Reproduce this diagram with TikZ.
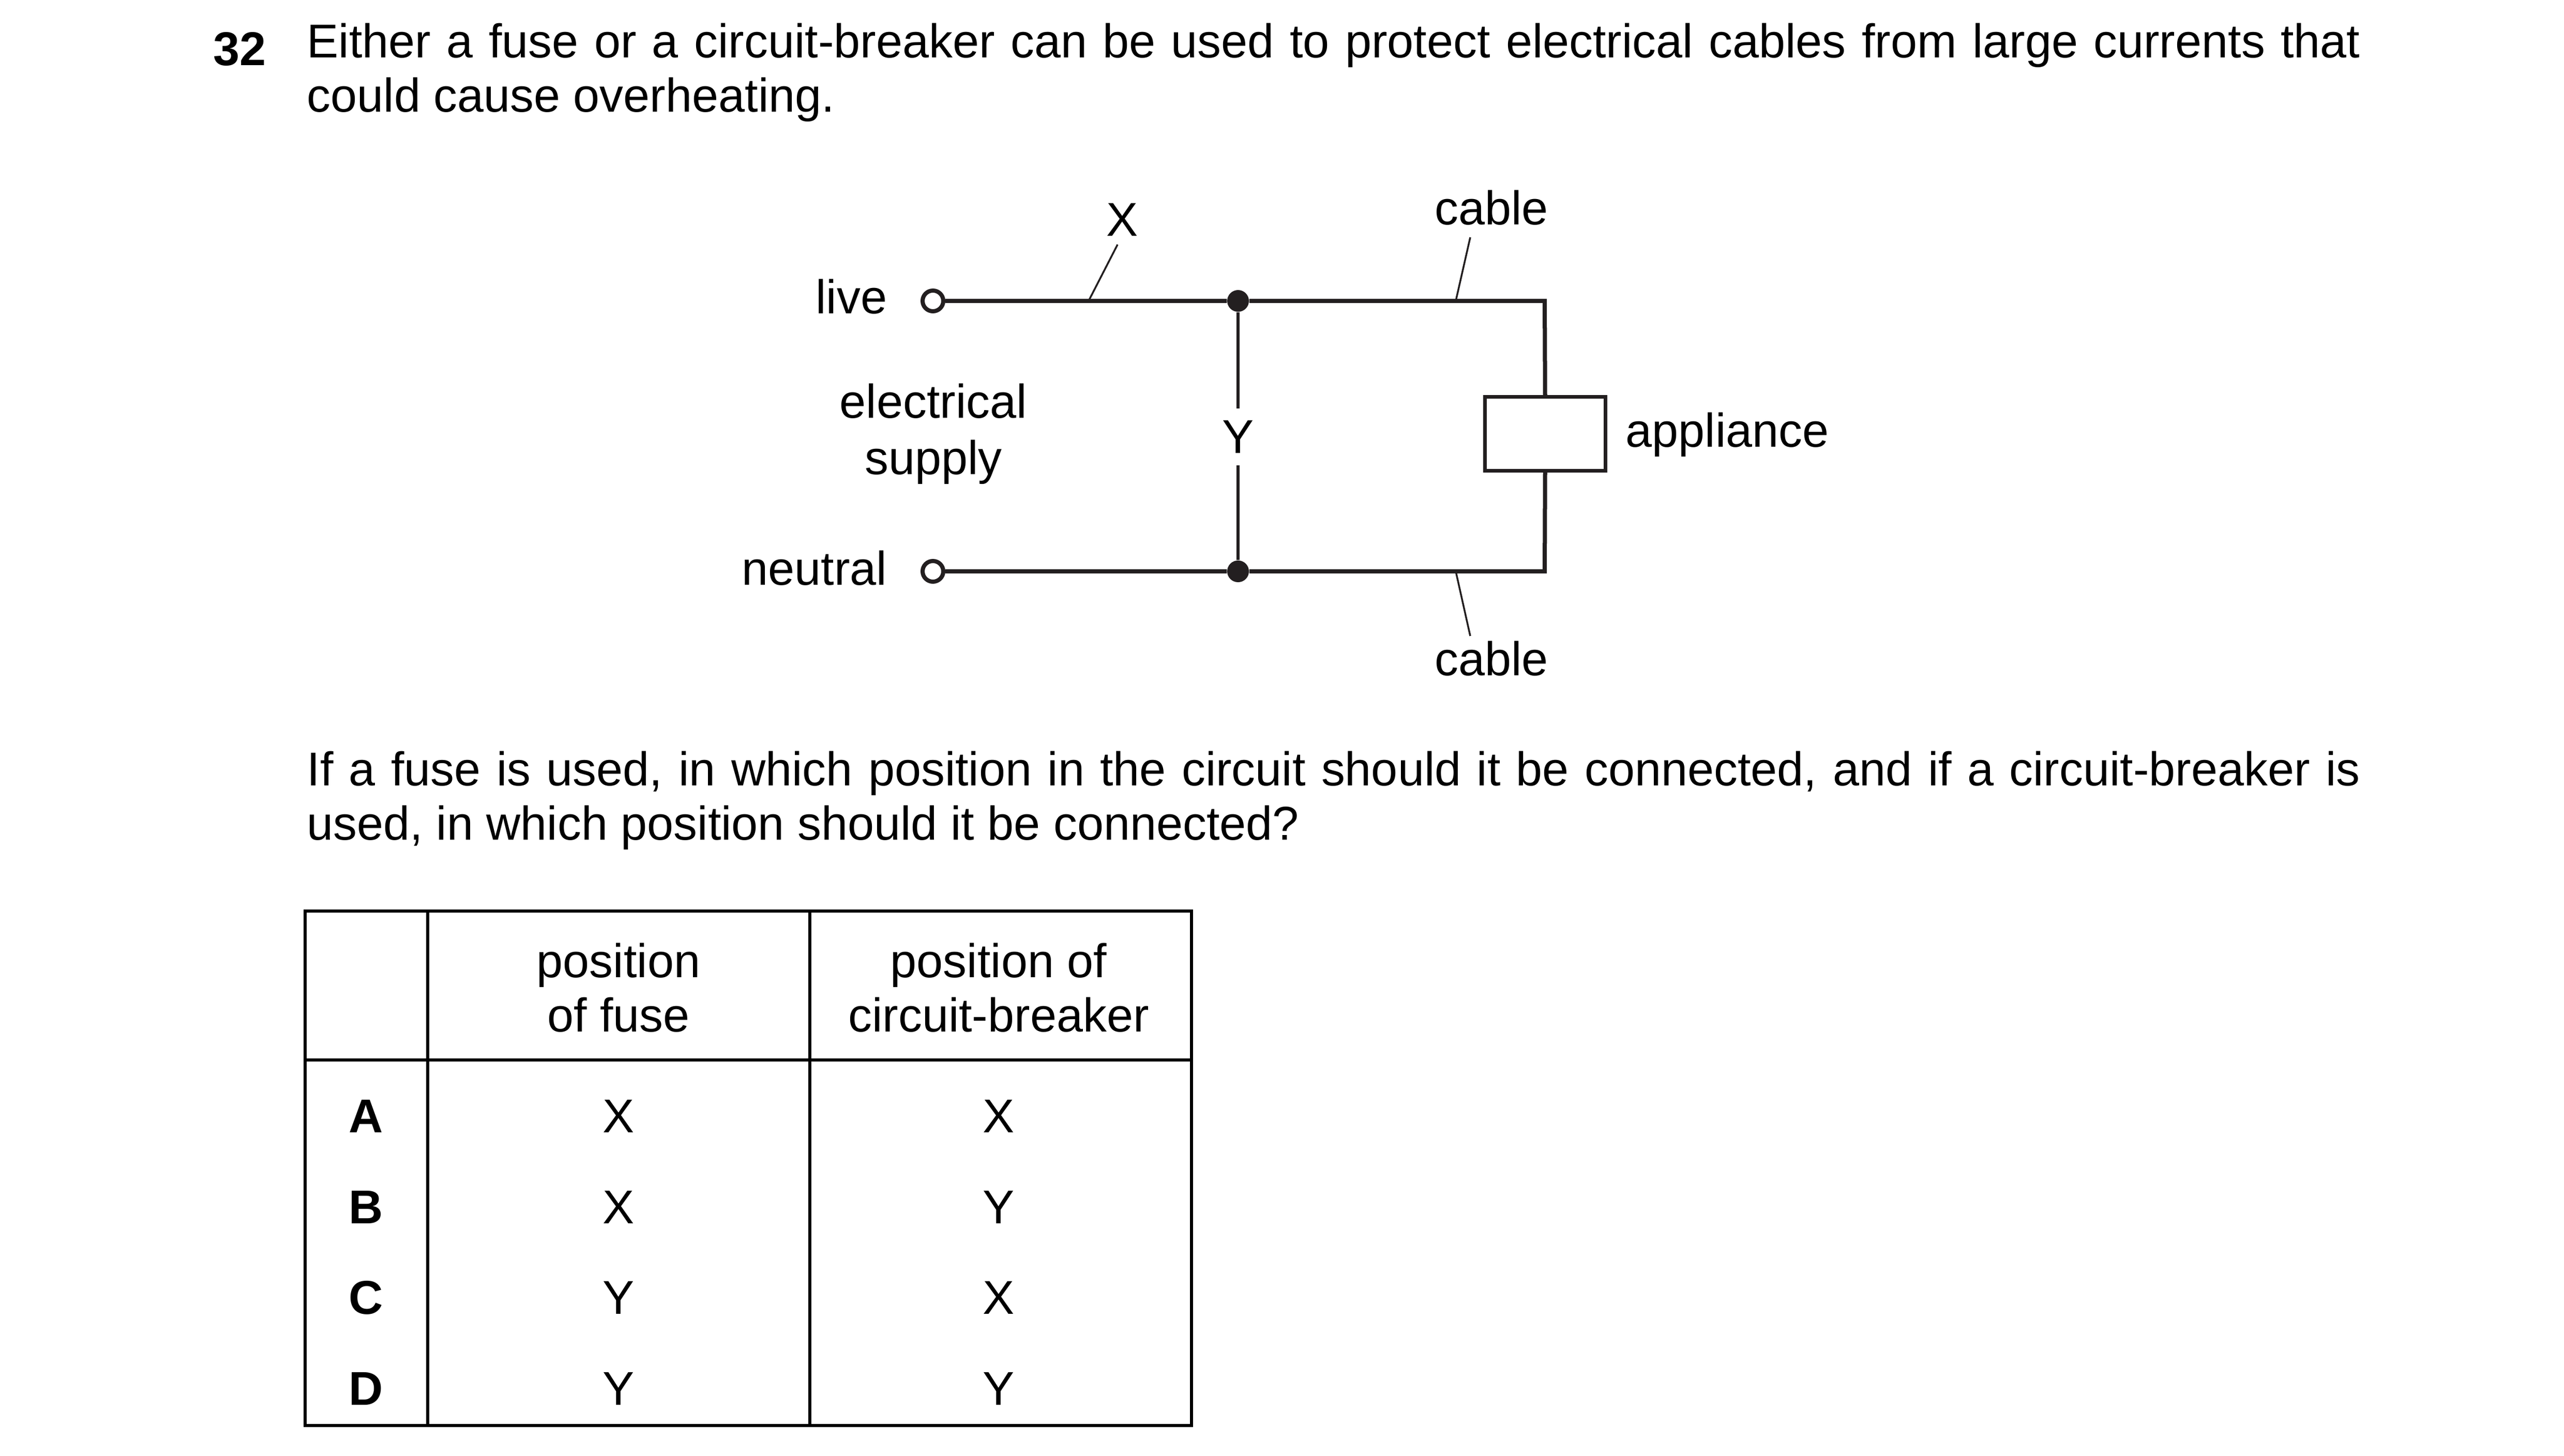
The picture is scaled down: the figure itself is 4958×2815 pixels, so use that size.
\documentclass[tikz,border=0pt]{standalone}
\usepackage{fontspec}
\setmainfont{Liberation Sans}
\usepackage{tikz}
\definecolor{wireblack}{HTML}{231F20}
\newcommand{\qfont}{\fontsize{26.1}{29.9}\selectfont}

\begin{document}
\begin{tikzpicture}[x=0.01cm, y=-0.01cm,
    every node/.style={font=\qfont, inner sep=0pt},
    txt/.style={anchor=base},
    para/.style={anchor=north west, text width=39.68cm, align=justify},
    wire/.style={draw=wireblack, line width=0.08cm},
    thinwire/.style={draw=wireblack, line width=0.06cm},
    leader/.style={draw=wireblack, line width=0.035cm},
    terminal/.style={circle, draw=wireblack, fill=white, line width=0.08cm, minimum size=0.4cm},
    junction/.style={circle, fill=wireblack, minimum size=0.42cm},
    tabline/.style={draw=black, line width=0.06cm}]
    \useasboundingbox (0,0) rectangle (4958,2815);

    % the texts
    \node[txt, anchor=base west] (num) at (412,127) {\textbf{32}};
    \node[para] (question) at (593,44) {Either a fuse or a circuit-breaker can be used to protect electrical cables from large currents that could cause overheating.};
    \node[para] (asked) at (593,1452) {If a fuse is used, in which position in the circuit should it be connected, and if a circuit-breaker is used, in which position should it be connected?};

    % the circuit (nodes first, the wires use them later on)
    \node[terminal] (live) at (1804,582) {};
    \node[terminal] (neutral) at (1804,1105) {};
    \node[junction] (jtop) at (2394,582) {};
    \node[junction] (jbot) at (2394,1105) {};
    \node[draw=wireblack, line width=0.07cm, minimum width=2.32cm, minimum height=1.42cm] (appliance) at (2988,839) {};
    \coordinate (ctop) at (2987,582);
    \coordinate (cbot) at (2987,1105);
    \node[minimum height=1.08cm] (posY) at (2394,845) {Y};

    \draw[wire] (live) -- (jtop) -- (ctop) -- (appliance);
    \draw[wire] (neutral) -- (jbot) -- (cbot) -- (appliance);
    \draw[thinwire] (jtop) -- (posY);
    \draw[thinwire] (posY) -- (jbot);

    % labels of the circuit
    \node[txt, anchor=base east] (lblive) at (1716,606) {live};
    \node[txt, anchor=base east] (lbneutral) at (1716,1131) {neutral};
    \node[txt] (lbelec) at (1805,808) {electrical};
    \node[txt] (lbsupply) at (1805,917) {supply};
    \node[txt, anchor=base west] (lbappl) at (3143,864) {appliance};
    \node[txt] (posX) at (2170,456) {X};
    \node[txt] (cabletop) at (2884,434) {cable};
    \node[txt] (cablebot) at (2884,1306) {cable};

    % leader lines
    \coordinate (xfoot) at (2105,582);
    \coordinate (xhead) at (2161,473);
    \coordinate (tfoot) at (2815,582);
    \coordinate (thead) at (2843,459);
    \coordinate (bfoot) at (2815,1105);
    \coordinate (bhead) at (2843,1230);
    \draw[leader] (xfoot) -- (xhead);
    \draw[leader] (tfoot) -- (thead);
    \draw[leader] (bfoot) -- (bhead);

    % the table
    \coordinate (tl) at (590,1762);
    \coordinate (br) at (2304,2757);
    \draw[tabline] (tl) rectangle (br);
    \draw[tabline] (590,2050) -- (2304,2050);
    \draw[tabline] (827,1762) -- (827,2757);
    \draw[tabline] (1566,1762) -- (1566,2757);

    \node[txt, align=center, anchor=center] (headfuse) at (1196,1910) {position\\of fuse};
    \node[txt, align=center, anchor=center] (headcb) at (1931,1910) {position of\\circuit-breaker};

    \node[txt] (rowA) at (708,2190) {\textbf{A}};
    \node[txt] (rowB) at (708,2366) {\textbf{B}};
    \node[txt] (rowC) at (708,2541) {\textbf{C}};
    \node[txt] (rowD) at (708,2717) {\textbf{D}};
    \node[txt] (fuseA) at (1196,2190) {X};
    \node[txt] (fuseB) at (1196,2366) {X};
    \node[txt] (fuseC) at (1196,2541) {Y};
    \node[txt] (fuseD) at (1196,2717) {Y};
    \node[txt] (cbA) at (1931,2190) {X};
    \node[txt] (cbB) at (1931,2366) {Y};
    \node[txt] (cbC) at (1931,2541) {X};
    \node[txt] (cbD) at (1931,2717) {Y};
\end{tikzpicture}
\end{document}
